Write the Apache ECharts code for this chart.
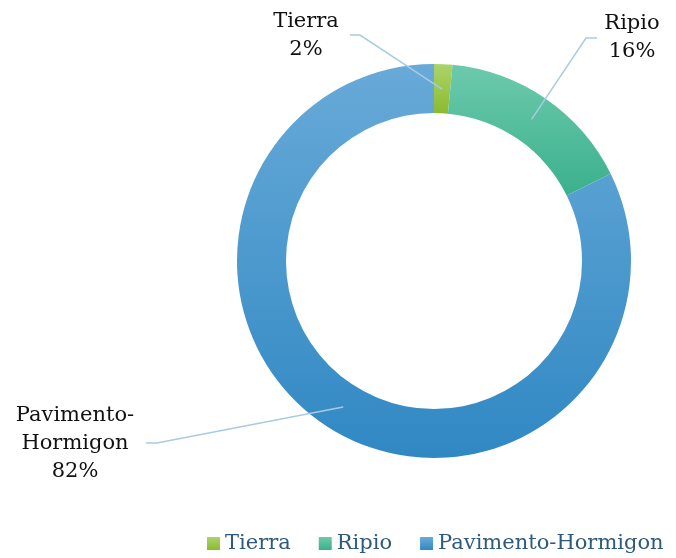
<!DOCTYPE html>
<html lang="es">
<head>
    <meta charset="UTF-8">
    <title>Tipo de carpeta</title>
    <style>
        html, body { margin: 0; padding: 0; background: #fff; }
        #main { width: 676px; height: 558px; }
    </style>
    <script src="https://cdn.jsdelivr.net/npm/echarts@6/dist/echarts.min.js"></script>
</head>
<body>
<div id="main"></div>
<script>
    // datos
    var categorias = ['Tierra', 'Ripio', 'Pavimento-Hormigon'];
    var valores = [1.5, 16.2, 82.3];

    // colores (arriba -> abajo)
    var coloresArriba = ['#abd46a', '#6ccaac', '#68aad8'];
    var coloresAbajo = ['#8cba30', '#3bb08c', '#3088c3'];

    // posiciones de las etiquetas: centro, codo y fin de la linea
    var etiquetas = [
        {x: 306, y: 36, bend: [360, 35], end: [350, 35]},
        {x: 632, y: 38, bend: [586, 38], end: [597, 38]},
        {x: 75, y: 444, bend: [157, 443], end: [146, 443]}
    ];

    var fuente = 'DejaVu Serif';
    var chart = echarts.init(document.getElementById('main'));

    var datos = categorias.map(function (c, i) {
        return {
            name: c,
            value: valores[i],
            itemStyle: {
                color: new echarts.graphic.LinearGradient(0, 0, 0, 1, [
                    {offset: 0, color: coloresArriba[i]},
                    {offset: 1, color: coloresAbajo[i]}
                ])
            }
        };
    });

    var option = {
        animation: false,
        legend: {
            left: 202,
            top: 528,
            width: 474,
            itemWidth: 13,
            itemHeight: 13,
            itemGap: 28,
            icon: 'rect',
            textStyle: {fontFamily: fuente, fontSize: 21, color: '#2e5a7e'},
            data: categorias
        },
        series: [
            {
                type: 'pie',
                center: [434, 261],
                radius: [148, 197],
                percentPrecision: 0,
                silent: true,
                label: {show: false},
                labelLine: {show: false},
                itemStyle: {borderWidth: 0},
                data: datos
            },
            {
                // serie invisible para las etiquetas (linea desde el centro del anillo)
                type: 'pie',
                z: 5,
                center: [434, 261],
                radius: [0, 172],
                percentPrecision: 0,
                silent: true,
                itemStyle: {color: 'rgba(0,0,0,0)'},
                label: {
                    show: true,
                    position: 'outside',
                    fontFamily: fuente,
                    fontSize: 21,
                    lineHeight: 28,
                    color: '#111',
                    align: 'center',
                    formatter: function (p) {
                        return p.name.replace('-', '-\n') + '\n' + p.percent + '%';
                    }
                },
                labelLine: {show: true, lineStyle: {color: '#a8cbe3', width: 1.5}},
                labelLayout: function (p) {
                    var e = etiquetas[p.dataIndex];
                    var p0 = p.labelLinePoints ? p.labelLinePoints[0] : e.bend;
                    return {
                        x: e.x,
                        y: e.y,
                        align: 'center',
                        verticalAlign: 'middle',
                        labelLinePoints: [p0, e.bend, e.end]
                    };
                },
                data: categorias.map(function (c, i) {
                    return {name: c, value: valores[i]};
                })
            }
        ]
    };
    chart.setOption(option);
</script>
</body>
</html>
